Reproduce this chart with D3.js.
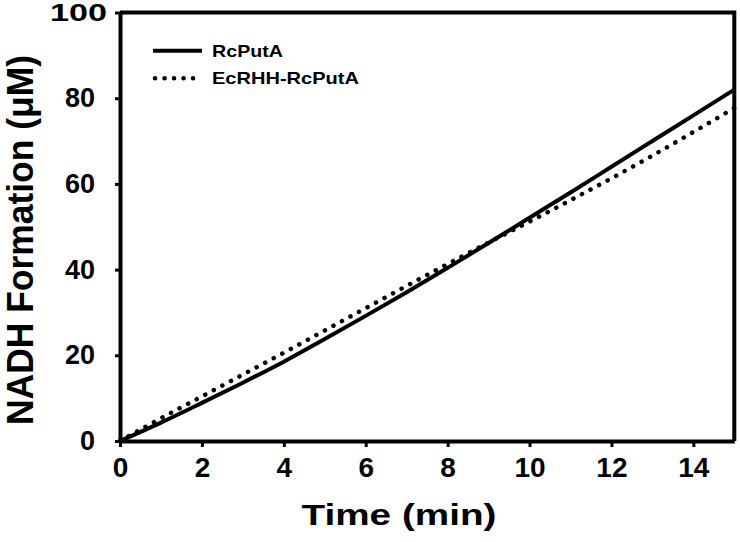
<!DOCTYPE html>
<html>
<head>
<meta charset="utf-8">
<script src="https://cdn.jsdelivr.net/npm/d3@7"></script>
<style>
  body { margin: 0; background: #fff; }
  text { font-family: "Liberation Sans", Arial, sans-serif; font-weight: bold; fill: #000; }
</style>
</head>
<body>
<div id="viz"></div>
<script>
// time points (min)
var times = [0, 1, 2, 3, 4, 5, 6, 7, 8, 9, 10, 11, 12, 13, 14, 15];
// NADH formation (uM)
var rcPutA = [0, 4.3, 8.9, 13.6, 18.5, 23.8, 29.2, 34.7, 40.4, 46.2, 52.1, 58.0, 64.0, 70.0, 76.0, 82.0];
var ecRhhRcPutA = [0, 5.3, 10.4, 15.5, 20.6, 25.8, 31.0, 36.2, 41.3, 46.3, 51.2, 56.2, 61.3, 66.6, 72.1, 77.7];
var seriesNames = ['RcPutA', 'EcRHH-RcPutA'];
var xTicks = [0, 2, 4, 6, 8, 10, 12, 14];
var yTicks = [0, 20, 40, 60, 80, 100];

var width = 740, height = 542;
var margin = { top: 12.5, right: 5.7, bottom: 101, left: 120 };

var svg = d3.select('#viz').append('svg')
    .attr('width', width)
    .attr('height', height);

var xScale = d3.scaleLinear()
    .domain([0, 15])
    .range([margin.left, width - margin.right]);

var yScale = d3.scaleLinear()
    .domain([0, 100])
    .range([height - margin.bottom, margin.top]);

// x axis
var xAxis = svg.append('g')
    .attr('transform', 'translate(0,' + yScale(0) + ')')
    .call(d3.axisBottom(xScale).tickValues(xTicks).tickSize(6).tickSizeOuter(0).tickPadding(10));
xAxis.selectAll('text').style('font-size', '28px');

// y axis
var yAxis = svg.append('g')
    .attr('transform', 'translate(' + xScale(0) + ',0)')
    .call(d3.axisLeft(yScale).tickValues(yTicks).tickSize(5).tickSizeOuter(0).tickPadding(20));
yAxis.selectAll('text').style('font-size', '27px');
// the "100" label is shorter, wider and further right in the original
yAxis.selectAll('.tick').filter(function (d) { return d === 100; })
    .select('text')
    .style('font-size', '24px')
    .attr('x', -13)
    .attr('textLength', 57)
    .attr('lengthAdjust', 'spacingAndGlyphs');

svg.selectAll('.domain').attr('stroke-width', 4);
svg.selectAll('.tick line').attr('stroke-width', 3);

// frame top and right
svg.append('path')
    .attr('d', 'M' + xScale(0) + ',' + yScale(100) + 'H' + xScale(15) + 'V' + yScale(0))
    .attr('fill', 'none')
    .attr('stroke', '#000')
    .attr('stroke-width', 4);

var line = d3.line()
    .x(function (d, i) { return xScale(times[i]); })
    .y(function (d) { return yScale(d); })
    .curve(d3.curveMonotoneX);

svg.append('path')
    .datum(rcPutA)
    .attr('d', line)
    .attr('fill', 'none')
    .attr('stroke', '#000')
    .attr('stroke-width', 4);

svg.append('path')
    .datum(ecRhhRcPutA)
    .attr('d', line)
    .attr('fill', 'none')
    .attr('stroke', '#000')
    .attr('stroke-width', 4.5)
    .attr('stroke-linecap', 'round')
    .attr('stroke-dasharray', '0.1 9.6');

// legend
var legend = svg.append('g');
legend.append('line')
    .attr('x1', 153).attr('x2', 202).attr('y1', 50.7).attr('y2', 50.7)
    .attr('stroke', '#000').attr('stroke-width', 4);
legend.append('line')
    .attr('x1', 155).attr('x2', 202).attr('y1', 78.3).attr('y2', 78.3)
    .attr('stroke', '#000').attr('stroke-width', 4.5)
    .attr('stroke-linecap', 'round').attr('stroke-dasharray', '0.1 9.4');
legend.append('text')
    .attr('x', 212).attr('y', 57)
    .style('font-size', '17px')
    .attr('textLength', 71).attr('lengthAdjust', 'spacingAndGlyphs')
    .text(seriesNames[0]);
legend.append('text')
    .attr('x', 212).attr('y', 84)
    .style('font-size', '17px')
    .attr('textLength', 147).attr('lengthAdjust', 'spacingAndGlyphs')
    .text(seriesNames[1]);

// axis titles
svg.append('text')
    .attr('x', 399).attr('y', 525)
    .attr('text-anchor', 'middle')
    .style('font-size', '30px')
    .attr('textLength', 195).attr('lengthAdjust', 'spacingAndGlyphs')
    .text('Time (min)');

svg.append('text')
    .attr('transform', 'translate(33,240) rotate(-90)')
    .attr('text-anchor', 'middle')
    .style('font-size', '36px')
    .attr('textLength', 370).attr('lengthAdjust', 'spacingAndGlyphs')
    .text('NADH Formation (\u03bcM)');
</script>
</body>
</html>
